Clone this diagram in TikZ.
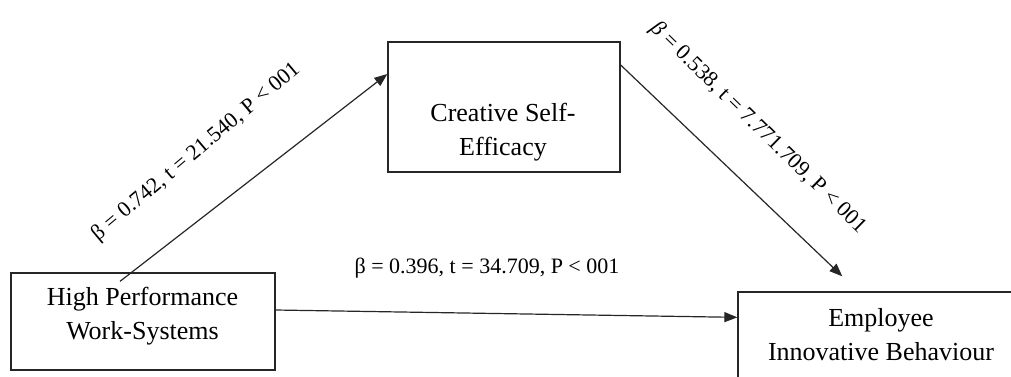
\documentclass[tikz,border=0pt]{standalone}
\usepackage{fontspec}
\setmainfont{Liberation Serif}
\usetikzlibrary{arrows.meta}
\begin{document}
\begin{tikzpicture}[x=1pt,y=-1pt,
  box/.style={draw=black!85, line width=1.3pt, inner sep=0pt},
  boxtext/.style={inner sep=0pt, align=center, font=\fontsize{26}{34}\selectfont},
  lab/.style={inner sep=0pt, font=\fontsize{22}{26}\selectfont},
  conn/.style={draw=black!85, line width=1.2pt, -{Triangle[length=13pt,width=10pt]}}]
\useasboundingbox (0,0) rectangle (1011,376);
\clip (0,0) rectangle (1011,376);
% boxes
\node[box, minimum width=264pt, minimum height=97pt] (hpws) at (143,321.5) {};
\node[box, minimum width=232pt, minimum height=130pt] (cse) at (504,107) {};
\node[box, minimum width=300pt, minimum height=120pt] (eib) at (888,352) {};
% texts
\node[boxtext] (hpwst) at (142.5,316.5) {High Performance\\Work-Systems};
\node[boxtext] (cset) at (503,132.5) {Creative Self-\\Efficacy};
\node[boxtext] (eibt) at (881,335) {Employee\\Innovative Behaviour};
% connectors
\draw[conn] ([shift={(-23,9)}]hpws.north) -- ([shift={(0,-33)}]cse.west);
\draw[conn] ([shift={(0,-42)}]cse.east) -- ([shift={(105,-15)}]eib.north west);
\draw[conn] ([shift={(0,-11.5)}]hpws.east) -- ([shift={(0,26)}]eib.north west);
% labels
\node[lab, rotate=40] (l1) at (196,152) {β = 0.742, t = 21.540, P < 001};
\node[lab, rotate=-44.3] (l2) at (758,128) {{\itshape β} = 0.538, t = 7.771.709, P < 001};
\node[lab] (l3) at (487,268) {β = 0.396, t = 34.709, P < 001};
\end{tikzpicture}
\end{document}
